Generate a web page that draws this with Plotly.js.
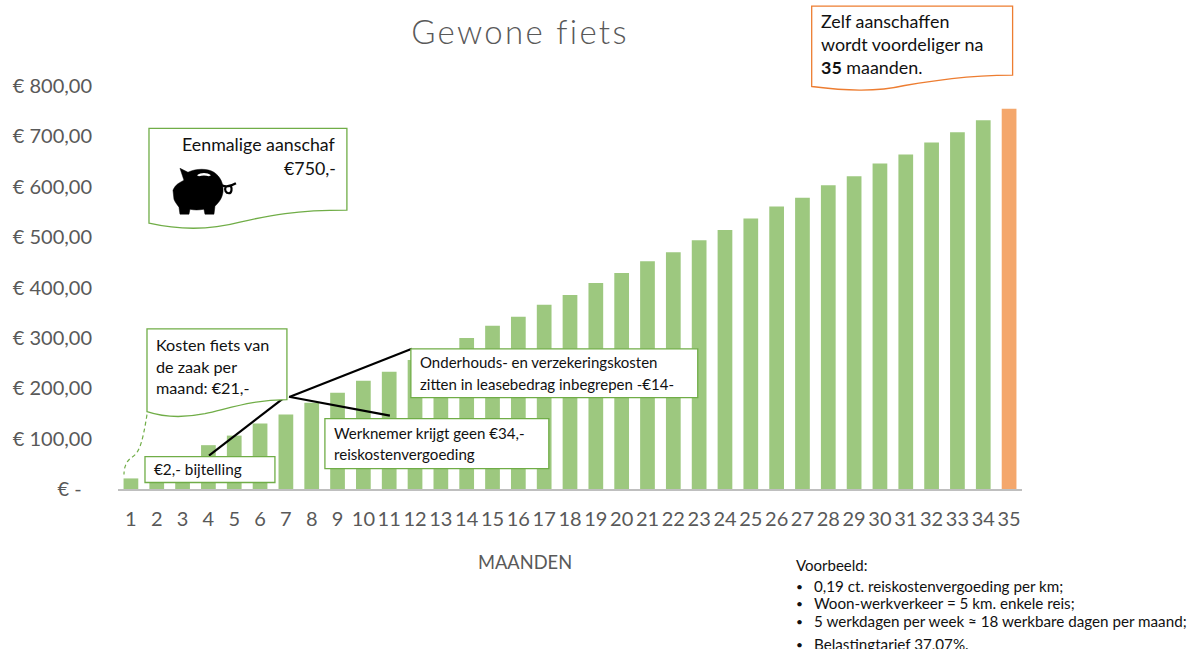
<!DOCTYPE html>
<html><head><meta charset="utf-8">
<script src="https://cdn.plot.ly/plotly-3.0.1.min.js"></script>
<style>html,body{margin:0;padding:0;background:#fff;overflow:hidden}#c{width:1192px;height:649px}
text{font-variant-ligatures:none}
.gtitle{letter-spacing:2.3px}</style>
</head><body><div id="c"></div>
<script>
const months = ["1","2","3","4","5","6","7","8","9","10","11","12","13","14","15","16","17","18","19","20","21","22","23","24","25","26","27","28","29","30","31","32","33","34","35"];
const costs = [21,42,65,87,106,130,148,171,191,215,233,256,276,300,324,342,366,385,409,429,452,470,494,514,537,561,578,603,621,646,664,688,708,732,755];
const barColors = months.map((m,i)=> i===34 ? "#F4A76C" : "#9DC87F");
const yTickVals = [0,100,200,300,400,500,600,700,800];
const yTickText = ["€ -\u00a0\u00a0","€ 100,00","€ 200,00","€ 300,00","€ 400,00","€ 500,00","€ 600,00","€ 700,00","€ 800,00"];
const GREEN="#70AD47", ORANGE="#ED7D31", TXT="#111111", GREY="#595959", FONT="Lato, Carlito, sans-serif";
const L=118,R=1022.4,T=85.5,B=489.5;
const px=x=>(x-L)/(R-L), py=y=>(B-y)/(B-T);
const P=s=>s.replace(/(-?[\d.]+),(-?[\d.]+)/g,(m,a,b)=>px(+a).toFixed(5)+","+py(+b).toFixed(5));
const shp=(d,o={})=>Object.assign({type:"path",xref:"paper",yref:"paper",path:P(d),layer:"above",fillcolor:"rgba(0,0,0,0)",line:{width:0}},o);
const box=(d,c)=>shp(d,{fillcolor:"#fff",line:{color:c,width:1.3}});
const blk=d=>shp(d,{line:{color:"#000",width:2.2}});
const note=(x,y,text,size,o={})=>{
 const right=o.xanchor==="right", center=o.xanchor==="center";
 return Object.assign({xref:"paper",yref:"paper",x:px(x+(right?2:center?0:-2)),y:py(y),text,showarrow:false,xanchor:"left",yanchor:"middle",align:"left",font:{family:FONT,size,color:TXT}},o);
};

const shapes=[
 blk("M209,456 L283,399"), blk("M290,397 L412,349"), blk("M289,397 L390,416"),
 box("M149,128 L347,128 L347,210 C295,210 270,215 240,222 C210,230 180,230 149,223 Z",GREEN),
 box("M812,5.5 L1013,5.5 L1013,74.5 C965,75 935,80 905,85 C875,92 845,90 812,86 Z",ORANGE),
 box("M147,329 L287,329 L287,400 C255,400 235,407 205,414 C185,418 165,418 147,412 Z",GREEN),
 shp("M147,415 C143,440 140,452 133,457 C126,461 124,468 124,475",{line:{color:GREEN,width:1.2,dash:"4px,3px"}}),
 box("M145,457 L275,457 L275,483 L145,483 Z",GREEN),
 box("M325,419 L549,419 L549,469 L325,469 Z",GREEN),
 box("M411,349 L698,349 L698,398 L411,398 Z",GREEN),
 // spaarvarken
 shp("M180,168 L188,172 C196,168 208,168 214,172 C220,176 224,183 223,192 C222,199 218,203 215,206 L214,214 L205,214 L204,209 C199,210 194,210 190,209 L189,214 L180,214 L179,207 C177,204 175,202 174,199 L173,190 C175,186 176,184 184,180 Z",{fillcolor:"#000",line:{color:"#000",width:.5}}),
 shp("M197,175 C201,172 207,172 211,175 L209,176 C206,175 202,175 199,176 Z",{fillcolor:"#fff",line:{width:0}}),
 shp("M222,185 C226,187 231,186 236,183",{line:{color:"#000",width:2.2}}),
 shp("M226,186 C224,190 226,193 229,193 C232,193 232,188 231,186",{line:{color:"#000",width:2.2}})
];

const annotations=[
 note(336,144,"Eenmalige aanschaf",17.8,{xanchor:"right",align:"right"}),
 note(336,168,"€750,-",17.8,{xanchor:"right",align:"right"}),
 note(821,20.5,"Zelf aanschaffen",17.9),
 note(821,43.5,"wordt voordeliger na",17.9),
 note(821,66.5,"<b>35</b> maanden.",17.9),
 note(156,345,"Kosten fiets van",16.2),
 note(156,367,"de zaak per",16.2),
 note(156,388,"maand: €21,-",16.2),
 note(154,469,"€2,- bijtelling",15.3),
 note(334,433,"Werknemer krijgt geen €34,-",15.1),
 note(334,454,"reiskostenvergoeding",15.1),
 note(420,362,"Onderhouds- en verzekeringskosten",15),
 note(420,384,"zitten in leasebedrag inbegrepen -€14-",15),
 note(525,563,"MAANDEN",18.3,{xanchor:"center",font:{family:FONT,size:18.3,color:GREY}}),
 note(796,566,"Voorbeeld:",15),
 note(796,587,"•",12), note(814,587,"0,19 ct. reiskostenvergoeding per km;",15.2),
 note(796,604,"•",12), note(814,604,"Woon-werkverkeer = 5 km. enkele reis;",15.2),
 note(796,622,"•",12), note(814,622,"5 werkdagen per week ≈ 18 werkbare dagen per maand;",15.2),
 note(796,645,"•",12), note(814,645,"Belastingtarief 37,07%.",15.2)
];

Plotly.newPlot("c",[{type:"bar",x:months,y:costs,marker:{color:barColors,line:{width:0}},hoverinfo:"x+y"}],{
 width:1192,height:649,showlegend:false,bargap:0.43,
 paper_bgcolor:"#fff",plot_bgcolor:"#fff",
 margin:{l:L,r:1192-R,t:T,b:649-B,pad:0},
 title:{text:"Gewone fiets",x:520/1192,xanchor:"center",xref:"container",y:1-32/649,yanchor:"middle",font:{family:FONT,size:33,color:GREY,weight:300}},
 xaxis:{type:"category",range:[-0.5,34.5],tickvals:months,ticktext:months,showgrid:false,zeroline:false,showline:true,linecolor:"#BFBFBF",linewidth:2,ticks:"",ticklabelstandoff:11,tickfont:{family:FONT,size:20,color:GREY}},
 yaxis:{range:[0,800],tickvals:yTickVals,ticktext:yTickText,showgrid:false,zeroline:false,showline:false,ticks:"",ticklabelstandoff:25,tickfont:{family:FONT,size:20,color:GREY}},
 shapes,annotations
},{displayModeBar:false,staticPlot:false});
</script></body></html>
